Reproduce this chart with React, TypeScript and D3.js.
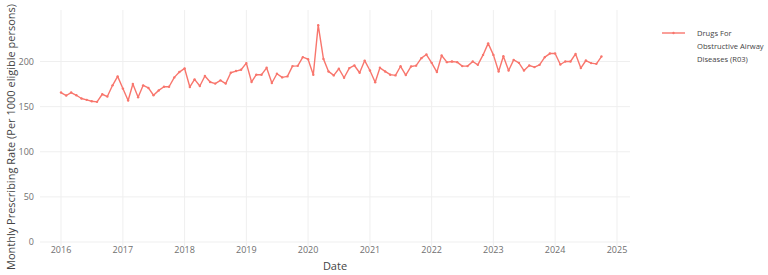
import React, { useEffect, useRef } from "react";
import * as d3 from "d3";

// Monthly prescribing rate, one array per calendar year (Jan..Dec)
const rate2016 = [165.6, 162.3, 165.6, 162.6, 159.0, 157.5, 156.0, 155.3, 163.7, 161.2, 173.6, 183.5];
const rate2017 = [170.0, 156.8, 175.0, 160.4, 173.6, 170.7, 162.6, 168.0, 172.0, 172.0, 182.4, 188.3];
const rate2018 = [192.3, 171.8, 180.2, 172.9, 183.9, 177.3, 175.5, 179.1, 175.5, 187.5, 189.4, 190.8];
const rate2019 = [198.2, 177.3, 185.4, 185.4, 193.0, 176.2, 186.4, 182.4, 183.5, 194.9, 195.2, 204.8];
const rate2020 = [202.6, 185.4, 240.3, 202.9, 189.0, 184.6, 192.0, 182.0, 192.7, 195.6, 187.5, 201.0];
const rate2021 = [190.0, 177.0, 193.0, 189.0, 185.4, 184.6, 194.7, 185.0, 194.5, 195.4, 203.7, 207.7];
const rate2022 = [198.5, 188.3, 206.6, 199.3, 200.0, 199.3, 194.9, 194.9, 200.0, 196.3, 207.3, 220.1];
const rate2023 = [207.3, 189.0, 205.9, 190.0, 201.8, 198.5, 190.0, 195.6, 193.8, 196.3, 204.8, 208.8];
const rate2024 = [208.8, 196.7, 200.0, 200.0, 208.4, 192.7, 201.1, 198.2, 197.4, 205.5];

const seriesName = "Drugs For Obstructive Airway Diseases (R03)";
const legendLines = ["Drugs For", "Obstructive Airway", "Diseases (R03)"];
const yTicks = [0, 50, 100, 150, 200];
const xTickYears = [2016, 2017, 2018, 2019, 2020, 2021, 2022, 2023, 2024, 2025];

const allRates = [
  ...rate2016, ...rate2017, ...rate2018, ...rate2019, ...rate2020,
  ...rate2021, ...rate2022, ...rate2023, ...rate2024,
];
const data = allRates.map((v, i) => ({ date: new Date(2016, i, 1), value: v }));

export default function App() {
  const svgRef = useRef<SVGSVGElement>(null);

  useEffect(() => {
    document.body.style.margin = "0";
    const width = 768;
    const height = 275;
    const svg = d3.select(svgRef.current);
    svg.selectAll("*").remove();

    const plot = { left: 40, right: 630, top: 10, bottom: 246 };
    const font = "'Open Sans', 'DejaVu Sans', sans-serif";

    const x = d3
      .scaleTime()
      .domain([new Date(2016, 0, 1), new Date(2025, 0, 1)])
      .range([61, 617]);
    const y = d3.scaleLinear().domain([0, 200]).range([242, 61.5]);

    svg.attr("width", width).attr("height", height);

    // grid
    const grid = svg.append("g");
    grid
      .selectAll("line.h")
      .data(yTicks)
      .enter()
      .append("line")
      .attr("x1", plot.left)
      .attr("x2", plot.right)
      .attr("y1", (d) => y(d))
      .attr("y2", (d) => y(d))
      .attr("stroke", "#efefef")
      .attr("stroke-width", 1);
    grid
      .selectAll("line.v")
      .data(xTickYears)
      .enter()
      .append("line")
      .attr("x1", (d) => x(new Date(d, 0, 1)))
      .attr("x2", (d) => x(new Date(d, 0, 1)))
      .attr("y1", plot.top)
      .attr("y2", plot.bottom)
      .attr("stroke", "#efefef")
      .attr("stroke-width", 1);

    // tick labels
    svg
      .append("g")
      .selectAll("text")
      .data(yTicks)
      .enter()
      .append("text")
      .attr("x", 34)
      .attr("y", (d) => y(d))
      .attr("dy", "0.35em")
      .attr("text-anchor", "end")
      .attr("font-family", font)
      .attr("font-size", 9)
      .attr("fill", "#707070")
      .text((d) => d);

    svg
      .append("g")
      .selectAll("text")
      .data(xTickYears)
      .enter()
      .append("text")
      .attr("x", (d) => x(new Date(d, 0, 1)))
      .attr("y", 250)
      .attr("dy", "0.35em")
      .attr("text-anchor", "middle")
      .attr("font-family", font)
      .attr("font-size", 9)
      .attr("fill", "#707070")
      .text((d) => d);

    // axis titles
    svg
      .append("text")
      .attr("x", (plot.left + plot.right) / 2)
      .attr("y", 266)
      .attr("dy", "0.35em")
      .attr("text-anchor", "middle")
      .attr("font-family", font)
      .attr("font-size", 11)
      .attr("fill", "#444")
      .text("Date");

    svg
      .append("text")
      .attr("transform", `translate(11,${(12 + 262) / 2}) rotate(-90)`)
      .attr("dy", "0.35em")
      .attr("text-anchor", "middle")
      .attr("font-family", font)
      .attr("font-size", 11)
      .attr("fill", "#444")
      .text("Monthly Prescribing Rate (Per 1000 eligible persons)");

    // series
    const color = "#F8766D";
    const line = d3
      .line<{ date: Date; value: number }>()
      .x((d) => x(d.date))
      .y((d) => y(d.value));

    svg
      .append("path")
      .datum(data)
      .attr("d", line)
      .attr("fill", "none")
      .attr("stroke", color)
      .attr("stroke-width", 1.4)
      .attr("stroke-linejoin", "round");

    svg
      .append("g")
      .selectAll("circle")
      .data(data)
      .enter()
      .append("circle")
      .attr("cx", (d) => x(d.date))
      .attr("cy", (d) => y(d.value))
      .attr("r", 1.2)
      .attr("fill", color);

    // legend
    const lg = svg.append("g").attr("transform", "translate(662,33)");
    lg.append("title").text(seriesName);
    lg.append("line")
      .attr("x1", 0)
      .attr("x2", 23)
      .attr("y1", 0)
      .attr("y2", 0)
      .attr("stroke", color)
      .attr("stroke-width", 1.4);
    lg.append("circle").attr("cx", 11.5).attr("cy", 0).attr("r", 1.2).attr("fill", color);
    lg.selectAll("text.l")
      .data(legendLines)
      .enter()
      .append("text")
      .attr("x", 35)
      .attr("y", (_d, i) => i * 13)
      .attr("dy", "0.35em")
      .attr("font-family", font)
      .attr("font-size", 7.6)
      .attr("fill", "#444")
      .text((d) => d);
  }, []);

  return <svg ref={svgRef} style={{ display: "block" }}></svg>;
}
